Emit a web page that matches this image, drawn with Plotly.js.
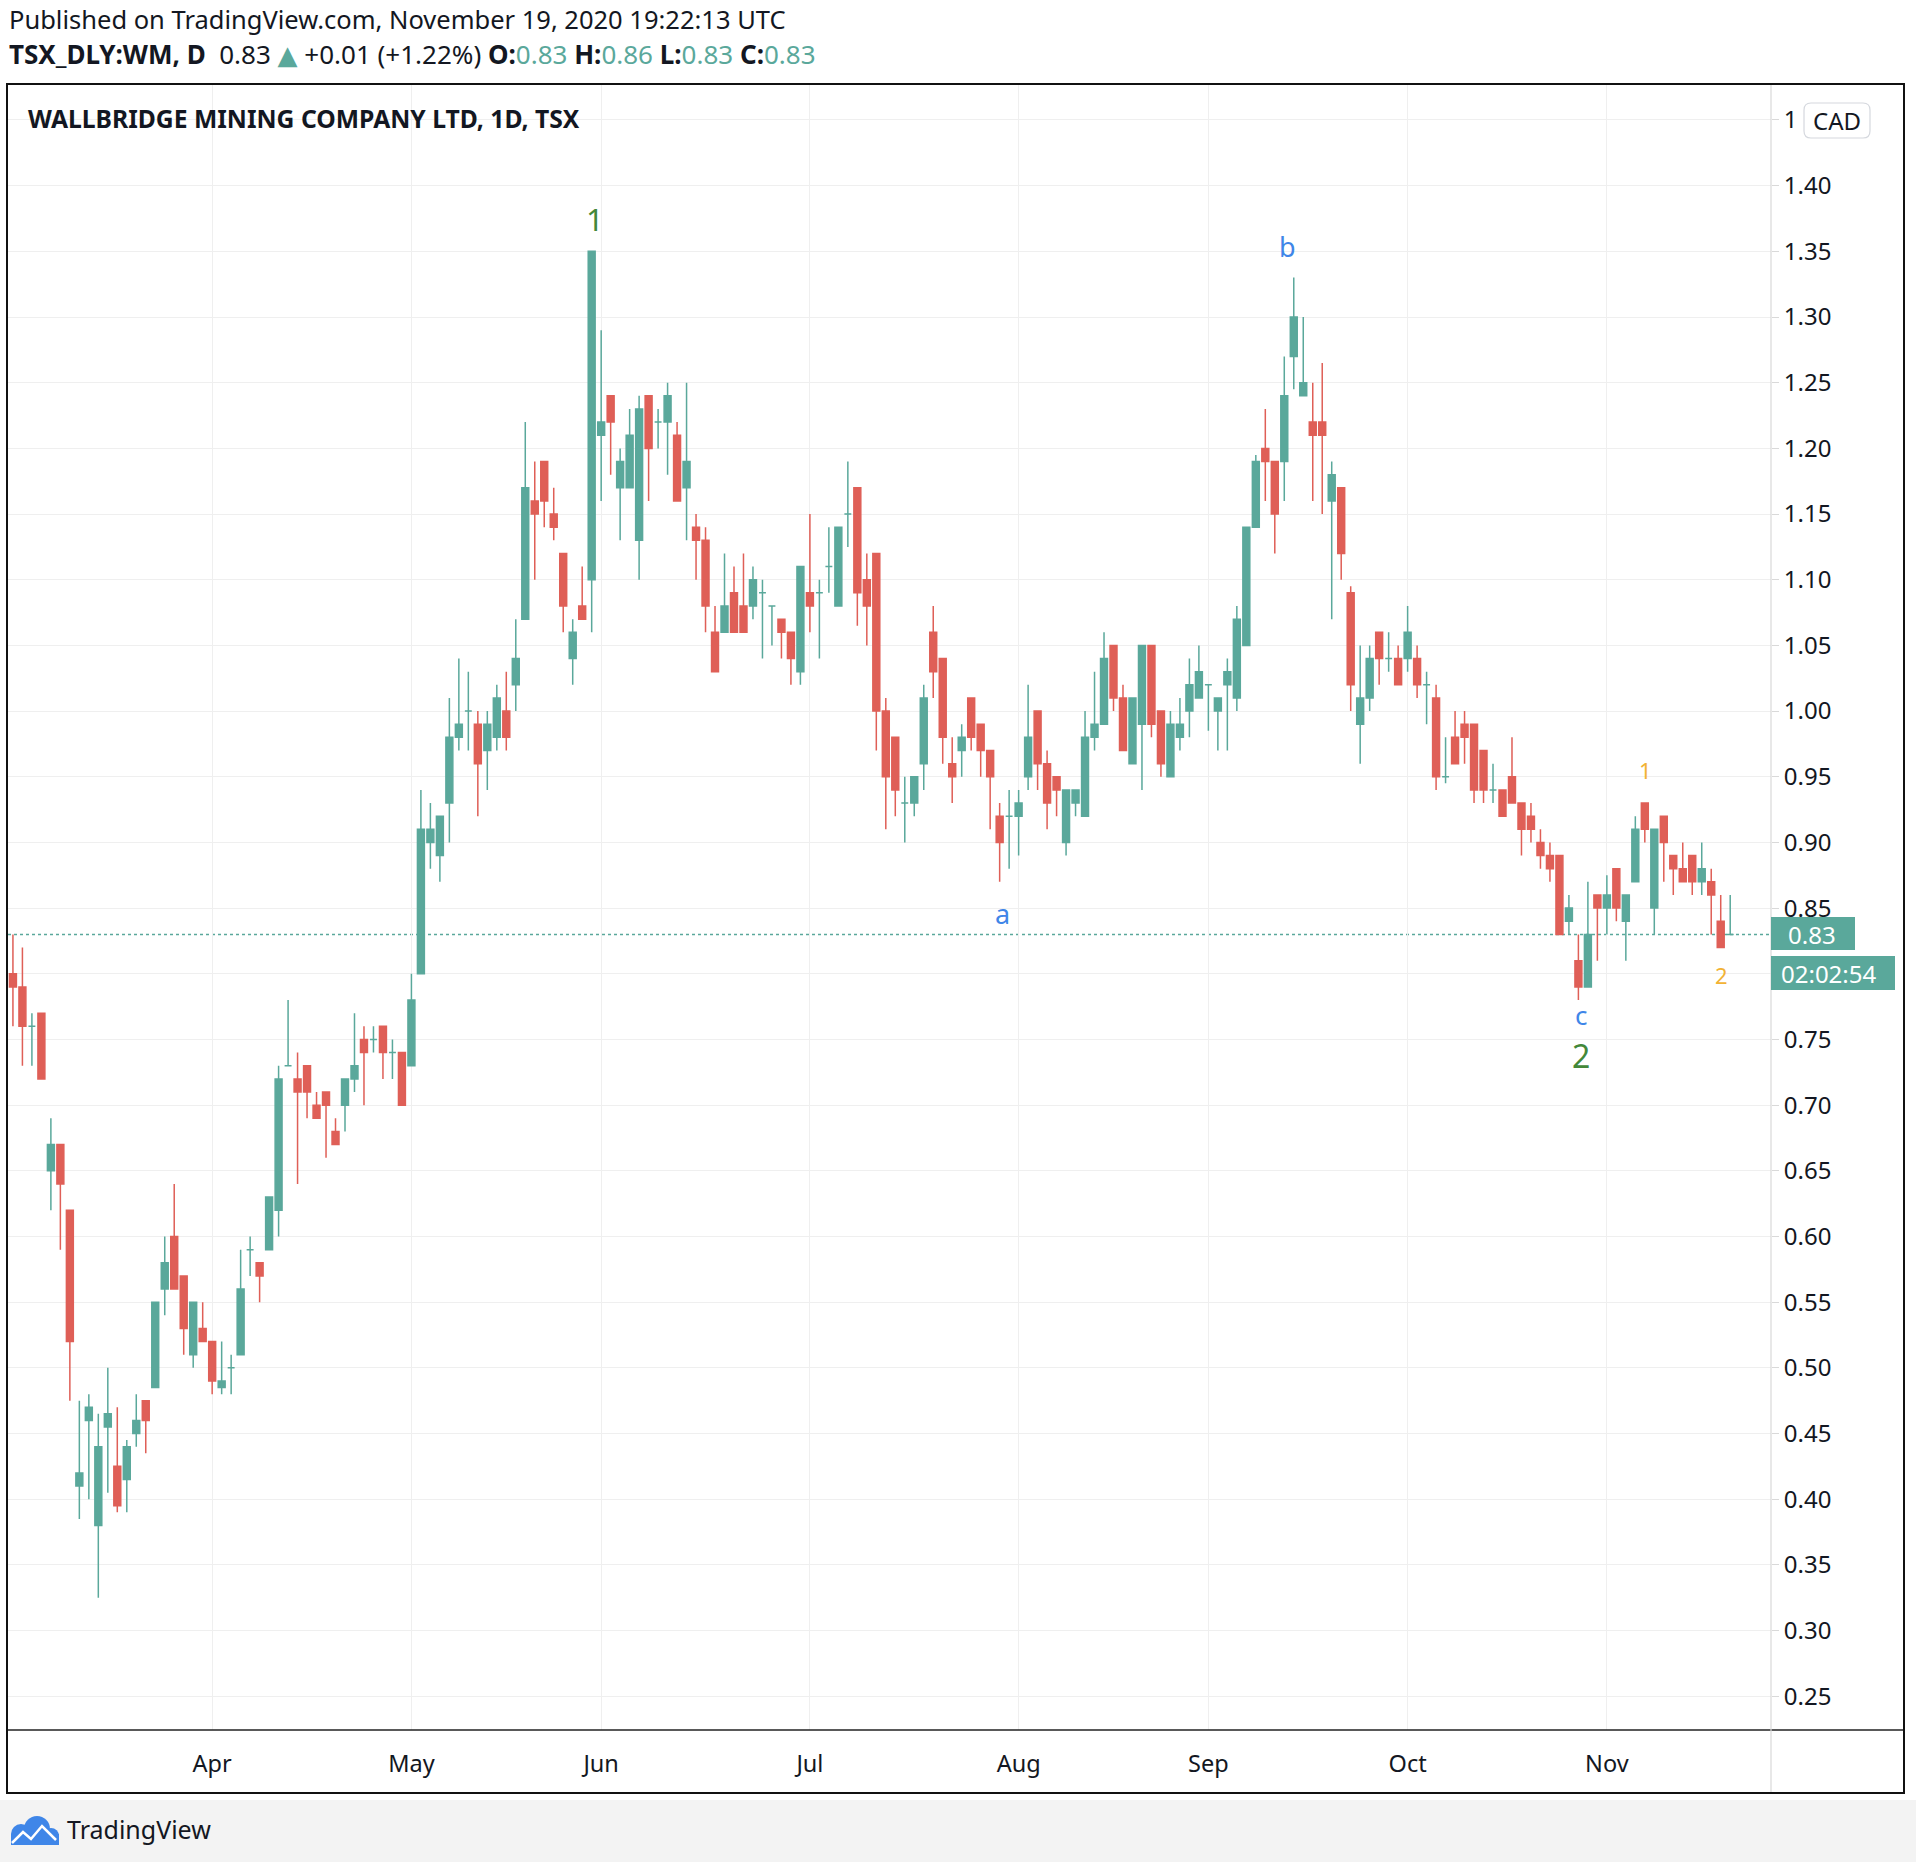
<!DOCTYPE html>
<html><head><meta charset="utf-8">
<script src="https://cdn.plot.ly/plotly-3.0.1.min.js"></script>
<style>html,body{margin:0;padding:0;background:#fff;}#chart{width:1916px;height:1862px;}</style>
</head><body><div id="chart"></div>
<script>
// ---- data ----
const openP = [
 .80,.79,.76,.77,.65,.67,.62,.41,.46,.38,.455,.425,.415,.45,.475,.485,.56,.60,.57,.51,.53,
 .52,.485,.50,.51,.59,.58,.59,.62,.73,.72,.73,.70,.71,.68,.70,.72,.75,.75,.76,.74,.74,
 .73,.80,.90,.89,.93,.98,1.00,.99,.97,.98,1.00,1.02,1.07,1.16,1.19,1.15,1.12,1.04,1.08,1.10,
 1.21,1.24,1.17,1.17,1.13,1.24,1.22,1.22,1.21,1.17,1.14,1.13,1.06,1.06,1.09,1.08,1.08,1.09,1.08,1.07,1.06,1.03,
 1.09,1.09,1.11,1.08,1.15,1.17,1.10,1.12,1.00,.98,.93,.93,.96,1.06,1.04,.96,.97,1.01,.99,.97,.92,.92,
 .92,.95,1.00,.96,.95,.90,.93,.92,.98,.99,1.05,1.01,.96,.99,1.05,1.00,.95,.98,1.00,1.01,
 1.02,1.00,1.02,1.01,1.05,1.14,1.20,1.19,1.19,1.27,1.24,1.22,1.22,1.16,1.17,1.09,.99,1.01,1.06,1.04,1.04,
 1.04,1.04,1.02,1.01,.95,.98,.99,.99,.97,.94,.94,.95,.93,.92,.90,.89,.89,.84,.81,.79,.86,
 .85,.88,.84,.87,.93,.85,.92,.89,.88,.89,.87,.87,.84,.83
];
const highP = [
 .83,.82,.77,.77,.69,.67,.62,.475,.48,.465,.50,.47,.445,.48,.475,.55,.60,.64,.57,.55,.55,
 .52,.52,.51,.59,.60,.58,.63,.73,.78,.74,.73,.71,.71,.69,.72,.77,.76,.76,.76,.75,.74,
 .80,.94,.93,.92,1.01,1.04,1.03,1.00,1.00,1.02,1.03,1.07,1.22,1.19,1.19,1.17,1.12,1.07,1.11,1.35,
 1.29,1.24,1.20,1.23,1.24,1.24,1.23,1.25,1.22,1.25,1.15,1.14,1.08,1.12,1.11,1.12,1.11,1.10,1.08,1.07,1.06,1.11,
 1.15,1.10,1.14,1.14,1.19,1.17,1.12,1.12,1.01,.98,.95,.95,1.02,1.08,1.04,.98,.99,1.01,.99,.97,.93,.94,
 .94,1.02,1.00,.97,.95,.94,.94,1.00,1.03,1.06,1.05,1.02,1.01,1.05,1.05,1.00,1.00,1.01,1.04,1.05,
 1.02,1.01,1.04,1.08,1.14,1.195,1.23,1.19,1.27,1.33,1.30,1.25,1.265,1.19,1.17,1.095,1.05,1.05,1.06,1.06,1.05,
 1.08,1.05,1.03,1.02,.98,1.00,1.00,.99,.97,.96,.94,.98,.93,.93,.91,.90,.89,.86,.83,.87,.86,
 .875,.88,.86,.92,.93,.91,.92,.89,.90,.89,.90,.88,.86,.86
];
const lowP = [
 .76,.73,.73,.72,.62,.59,.475,.385,.40,.325,.405,.39,.39,.44,.435,.485,.54,.56,.51,.50,.52,
 .48,.48,.48,.51,.57,.55,.59,.60,.73,.64,.69,.69,.66,.67,.68,.71,.70,.74,.72,.72,.70,
 .73,.80,.88,.87,.90,.97,.97,.92,.94,.97,.97,1.00,1.07,1.10,1.14,1.13,1.06,1.02,1.07,1.06,
 1.16,1.18,1.13,1.17,1.10,1.16,1.20,1.18,1.16,1.13,1.10,1.06,1.03,1.06,1.06,1.06,1.07,1.04,1.05,1.04,1.02,1.02,
 1.06,1.04,1.09,1.08,1.125,1.065,1.05,.97,.91,.92,.90,.92,.94,1.01,.96,.93,.95,.97,.95,.91,.87,.88,
 .89,.94,.94,.91,.92,.89,.92,.92,.97,.99,1.00,.97,.96,.94,.98,.95,.95,.97,.98,1.01,
 .985,.97,.97,1.00,1.05,1.14,1.16,1.12,1.16,1.245,1.24,1.16,1.15,1.07,1.10,1.00,.96,1.00,1.02,1.03,1.02,
 1.03,1.01,.99,.94,.945,.96,.96,.93,.93,.93,.92,.93,.89,.90,.88,.87,.83,.83,.78,.79,.81,
 .83,.84,.81,.87,.90,.83,.87,.86,.87,.86,.86,.83,.82,.83
];
const closeP = [
 .79,.76,.76,.72,.67,.64,.52,.42,.47,.44,.465,.395,.44,.46,.46,.55,.58,.56,.53,.55,.52,
 .49,.49,.50,.56,.59,.57,.63,.72,.73,.71,.71,.69,.70,.67,.72,.73,.74,.75,.74,.74,.70,
 .78,.91,.91,.92,.98,.99,1.00,.96,.99,1.01,.98,1.04,1.17,1.15,1.16,1.14,1.08,1.06,1.07,1.35,
 1.22,1.22,1.19,1.21,1.23,1.20,1.22,1.24,1.16,1.19,1.13,1.08,1.03,1.08,1.06,1.06,1.10,1.09,1.08,1.06,1.04,1.11,
 1.08,1.09,1.11,1.14,1.15,1.09,1.08,1.00,.95,.94,.93,.95,1.01,1.03,.98,.95,.98,.98,.97,.95,.90,.92,
 .93,.98,.96,.93,.94,.94,.94,.98,.99,1.04,1.01,.97,1.01,1.05,.99,.96,.99,.99,1.02,1.03,
 1.02,1.01,1.03,1.07,1.14,1.19,1.19,1.15,1.24,1.30,1.25,1.21,1.21,1.18,1.12,1.02,1.01,1.04,1.04,1.04,1.02,
 1.06,1.02,1.02,.95,.95,.96,.98,.94,.94,.94,.92,.93,.91,.91,.89,.88,.83,.85,.79,.83,.85,
 .86,.85,.86,.91,.91,.91,.90,.88,.87,.87,.88,.86,.82,.83
];
const monthLabels = ['Apr','May','Jun','Jul','Aug','Sep','Oct','Nov'];
const monthStarts = ['2020-04-01','2020-05-01','2020-06-01','2020-07-02','2020-08-04','2020-09-01','2020-10-01','2020-11-02'];
const priceTicks = [0.25,0.30,0.35,0.40,0.45,0.50,0.55,0.60,0.65,0.70,0.75,0.80,0.85,0.90,0.95,1.00,1.05,1.10,1.15,1.20,1.25,1.30,1.35,1.40,1.45];
const priceTickText = ['0.25','0.30','0.35','0.40','0.45','0.50','0.55','0.60','0.65','0.70','0.75','','0.85','0.90','0.95','1.00','1.05','1.10','1.15','1.20','1.25','1.30','1.35','1.40','1'];
const holidays = ['2020-04-10','2020-05-18','2020-07-01','2020-08-03','2020-09-07','2020-10-12'];
const lastPrice = 0.83;

// TSX trading calendar (weekdays minus exchange holidays)
const dates = (function(){
  const out=[]; const d=new Date(Date.UTC(2020,2,3)); const end=Date.UTC(2020,10,19);
  while(d.getTime()<=end){
    const wd=d.getUTCDay(); const s=d.toISOString().slice(0,10);
    if(wd!==0 && wd!==6 && holidays.indexOf(s)<0) out.push(s);
    d.setUTCDate(d.getUTCDate()+1);
  }
  return out;
})();

const UP='#5aa89b', DN='#df5f57', GRID='#efefef', TXT='#131722';
function pick(cond){
  const o={x:[],open:[],high:[],low:[],close:[]};
  dates.forEach((d,i)=>{ if(cond(i)){o.x.push(d);o.open.push(openP[i]);o.high.push(highP[i]);o.low.push(lowP[i]);o.close.push(closeP[i]);} });
  return o;
}
const up=pick(i=>closeP[i]>=openP[i]), dn=pick(i=>closeP[i]<openP[i]);
function candle(s,col){
  return {type:'candlestick',x:s.x,open:s.open,high:s.high,low:s.low,close:s.close,
    increasing:{line:{color:col,width:1.5},fillcolor:col},
    decreasing:{line:{color:col,width:1.5},fillcolor:col},
    whiskerwidth:0,hoverinfo:'none',showlegend:false};
}

// pixel helpers (page pixels -> paper coords)
const L=8,R=1771,T=84,B=1730;
const px=x=>(x-L)/(R-L), py=y=>(B-y)/(B-T);
function P(x,y){return px(x).toFixed(5)+','+py(y).toFixed(5);}
function rrect(x0,y0,x1,y1,r){
  return 'M'+P(x0+r,y0)+' L'+P(x1-r,y0)+' Q'+P(x1,y0)+' '+P(x1,y0+r)+' L'+P(x1,y1-r)+' Q'+P(x1,y1)+' '+P(x1-r,y1)+
    ' L'+P(x0+r,y1)+' Q'+P(x0,y1)+' '+P(x0,y1-r)+' L'+P(x0,y0+r)+' Q'+P(x0,y0)+' '+P(x0+r,y0)+' Z';
}
function circ(cx,cy,r,col){return {type:'circle',xref:'paper',yref:'paper',x0:px(cx-r),x1:px(cx+r),y0:py(cy+r),y1:py(cy-r),fillcolor:col,line:{width:0},layer:'above'};}

const FONT='"Noto Sans","DejaVu Sans",sans-serif';
const shapes=[
  {type:'rect',xref:'paper',yref:'paper',x0:px(-5),x1:px(1925),y0:py(1800),y1:py(1870),fillcolor:'#f3f3f3',line:{width:0},layer:'above'},
  {type:'line',xref:'paper',yref:'y',x0:0,x1:1,y0:lastPrice,y1:lastPrice,line:{color:UP,width:1.5,dash:'dot'},layer:'below'},
  {type:'line',xref:'paper',yref:'paper',x0:px(7),x1:px(1904),y0:py(1730),y1:py(1730),line:{color:'#222',width:1.5},layer:'above'},
  {type:'line',xref:'paper',yref:'paper',x0:px(R),x1:px(R),y0:py(84),y1:py(1793),line:{color:'#d9d9d9',width:1.2},layer:'above'},
  {type:'rect',xref:'paper',yref:'paper',x0:px(7),x1:px(1904),y0:py(1793),y1:py(84),fillcolor:'rgba(0,0,0,0)',line:{color:'#111',width:2},layer:'above'},
  {type:'rect',xref:'paper',yref:'paper',x0:px(1771),x1:px(1855),y0:py(950),y1:py(917),fillcolor:UP,line:{width:0},layer:'above'},
  {type:'rect',xref:'paper',yref:'paper',x0:px(1771),x1:px(1895),y0:py(990),y1:py(956),fillcolor:UP,line:{width:0},layer:'above'},
  {type:'path',xref:'paper',yref:'paper',path:rrect(1804,103,1870,138,7),fillcolor:'#ffffff',line:{color:'#d5d8de',width:1.2},layer:'above'},
  // logo cloud
  circ(21,1834,10,'#3f86e8'), circ(37,1829,13,'#3f86e8'), circ(51,1836,8,'#3f86e8'),
  {type:'rect',xref:'paper',yref:'paper',x0:px(11),x1:px(59),y0:py(1845),y1:py(1834),fillcolor:'#3f86e8',line:{width:0},layer:'above'},
  {type:'path',xref:'paper',yref:'paper',path:'M'+P(12,1843)+' L'+P(23,1832)+' L'+P(31,1839)+' L'+P(42,1826)+' L'+P(56,1840),line:{color:'#ffffff',width:2.5},layer:'above'}
];

const ann=(o)=>Object.assign({showarrow:false,font:{family:FONT,size:22,color:TXT}},o);
const annotations=[
  ann({xref:'paper',yref:'paper',x:px(7),y:py(19),xanchor:'left',yanchor:'middle',text:'Published on TradingView.com, November 19, 2020 19:22:13 UTC',font:{family:FONT,size:25.5,color:TXT}}),
  ann({xref:'paper',yref:'paper',x:px(7),y:py(54),xanchor:'left',yanchor:'middle',font:{family:FONT,size:26,color:TXT},
    text:'<b>TSX_DLY:WM, D</b>  0.83 <span style="color:'+UP+'">▲</span> +0.01 (+1.22%) <b>O:</b><span style="color:'+UP+'">0.83</span> <b>H:</b><span style="color:'+UP+'">0.86</span> <b>L:</b><span style="color:'+UP+'">0.83</span> <b>C:</b><span style="color:'+UP+'">0.83</span>'}),
  ann({xref:'paper',yref:'paper',x:px(26),y:py(119),xanchor:'left',yanchor:'middle',text:'<b>WALLBRIDGE MINING COMPANY LTD, 1D, TSX</b>',font:{family:FONT,size:24.7,color:TXT}}),
  ann({xref:'paper',yref:'paper',x:px(1837),y:py(120),xanchor:'center',yanchor:'middle',text:'CAD',font:{family:FONT,size:24,color:TXT}}),
  ann({xref:'paper',yref:'y',x:px(1786),y:lastPrice,xanchor:'left',yanchor:'middle',text:'0.83',font:{family:FONT,size:24,color:'#ffffff'}}),
  ann({xref:'paper',yref:'paper',x:px(1779),y:py(973),xanchor:'left',yanchor:'middle',text:'02:02:54',font:{family:FONT,size:24,color:'#ffffff'}}),
  ann({xref:'paper',yref:'paper',x:px(65),y:py(1829),xanchor:'left',yanchor:'middle',text:'TradingView',font:{family:FONT,size:25,color:TXT}}),
  // wave labels
  ann({xref:'x',yref:'y',x:61.4,y:1.375,text:'1',font:{family:FONT,size:31,color:'#43883a'}}),
  ann({xref:'x',yref:'y',x:134.3,y:1.354,text:'b',font:{family:FONT,size:27,color:'#3f86e8'}}),
  ann({xref:'x',yref:'y',x:104.3,y:0.846,text:'a',font:{family:FONT,size:27,color:'#3f86e8'}}),
  ann({xref:'x',yref:'y',x:165.3,y:0.769,text:'c',font:{family:FONT,size:26,color:'#3f86e8'}}),
  ann({xref:'x',yref:'y',x:165.3,y:0.738,text:'2',font:{family:FONT,size:32,color:'#43883a'}}),
  ann({xref:'x',yref:'y',x:172.05,y:0.955,text:'1',font:{family:FONT,size:22,color:'#f2b234'}}),
  ann({xref:'x',yref:'y',x:180.1,y:0.799,text:'2',font:{family:FONT,size:22,color:'#f2b234'}})
];

const layout={
  width:1916,height:1862,autosize:false,
  margin:{l:L,r:1916-R,t:T,b:1862-B,pad:0},
  paper_bgcolor:'#ffffff',plot_bgcolor:'#ffffff',
  font:{family:FONT,size:22,color:TXT},
  showlegend:false,hovermode:false,dragmode:false,
  boxgap:0.27,boxgroupgap:0,
  xaxis:{type:'category',categoryorder:'array',categoryarray:dates,range:[-0.52,185.3],
    tickmode:'array',tickvals:monthStarts,ticktext:monthLabels,showgrid:true,gridcolor:GRID,gridwidth:1,
    zeroline:false,showline:false,ticks:'',ticklabelstandoff:17,tickfont:{family:FONT,size:23.5,color:TXT},
    rangeslider:{visible:false},fixedrange:true},
  yaxis:{side:'right',range:[0.2243,1.4774],tickmode:'array',tickvals:priceTicks,
    ticktext:priceTickText,showgrid:true,gridcolor:GRID,gridwidth:1,
    zeroline:false,showline:false,ticks:'outside',ticklen:7,tickcolor:'#d9d9d9',
    tickfont:{family:FONT,size:24,color:TXT},fixedrange:true},
  shapes:shapes,annotations:annotations
};
Plotly.newPlot('chart',[candle(up,UP),candle(dn,DN)],layout,{staticPlot:true,displayModeBar:false});
</script></body></html>
